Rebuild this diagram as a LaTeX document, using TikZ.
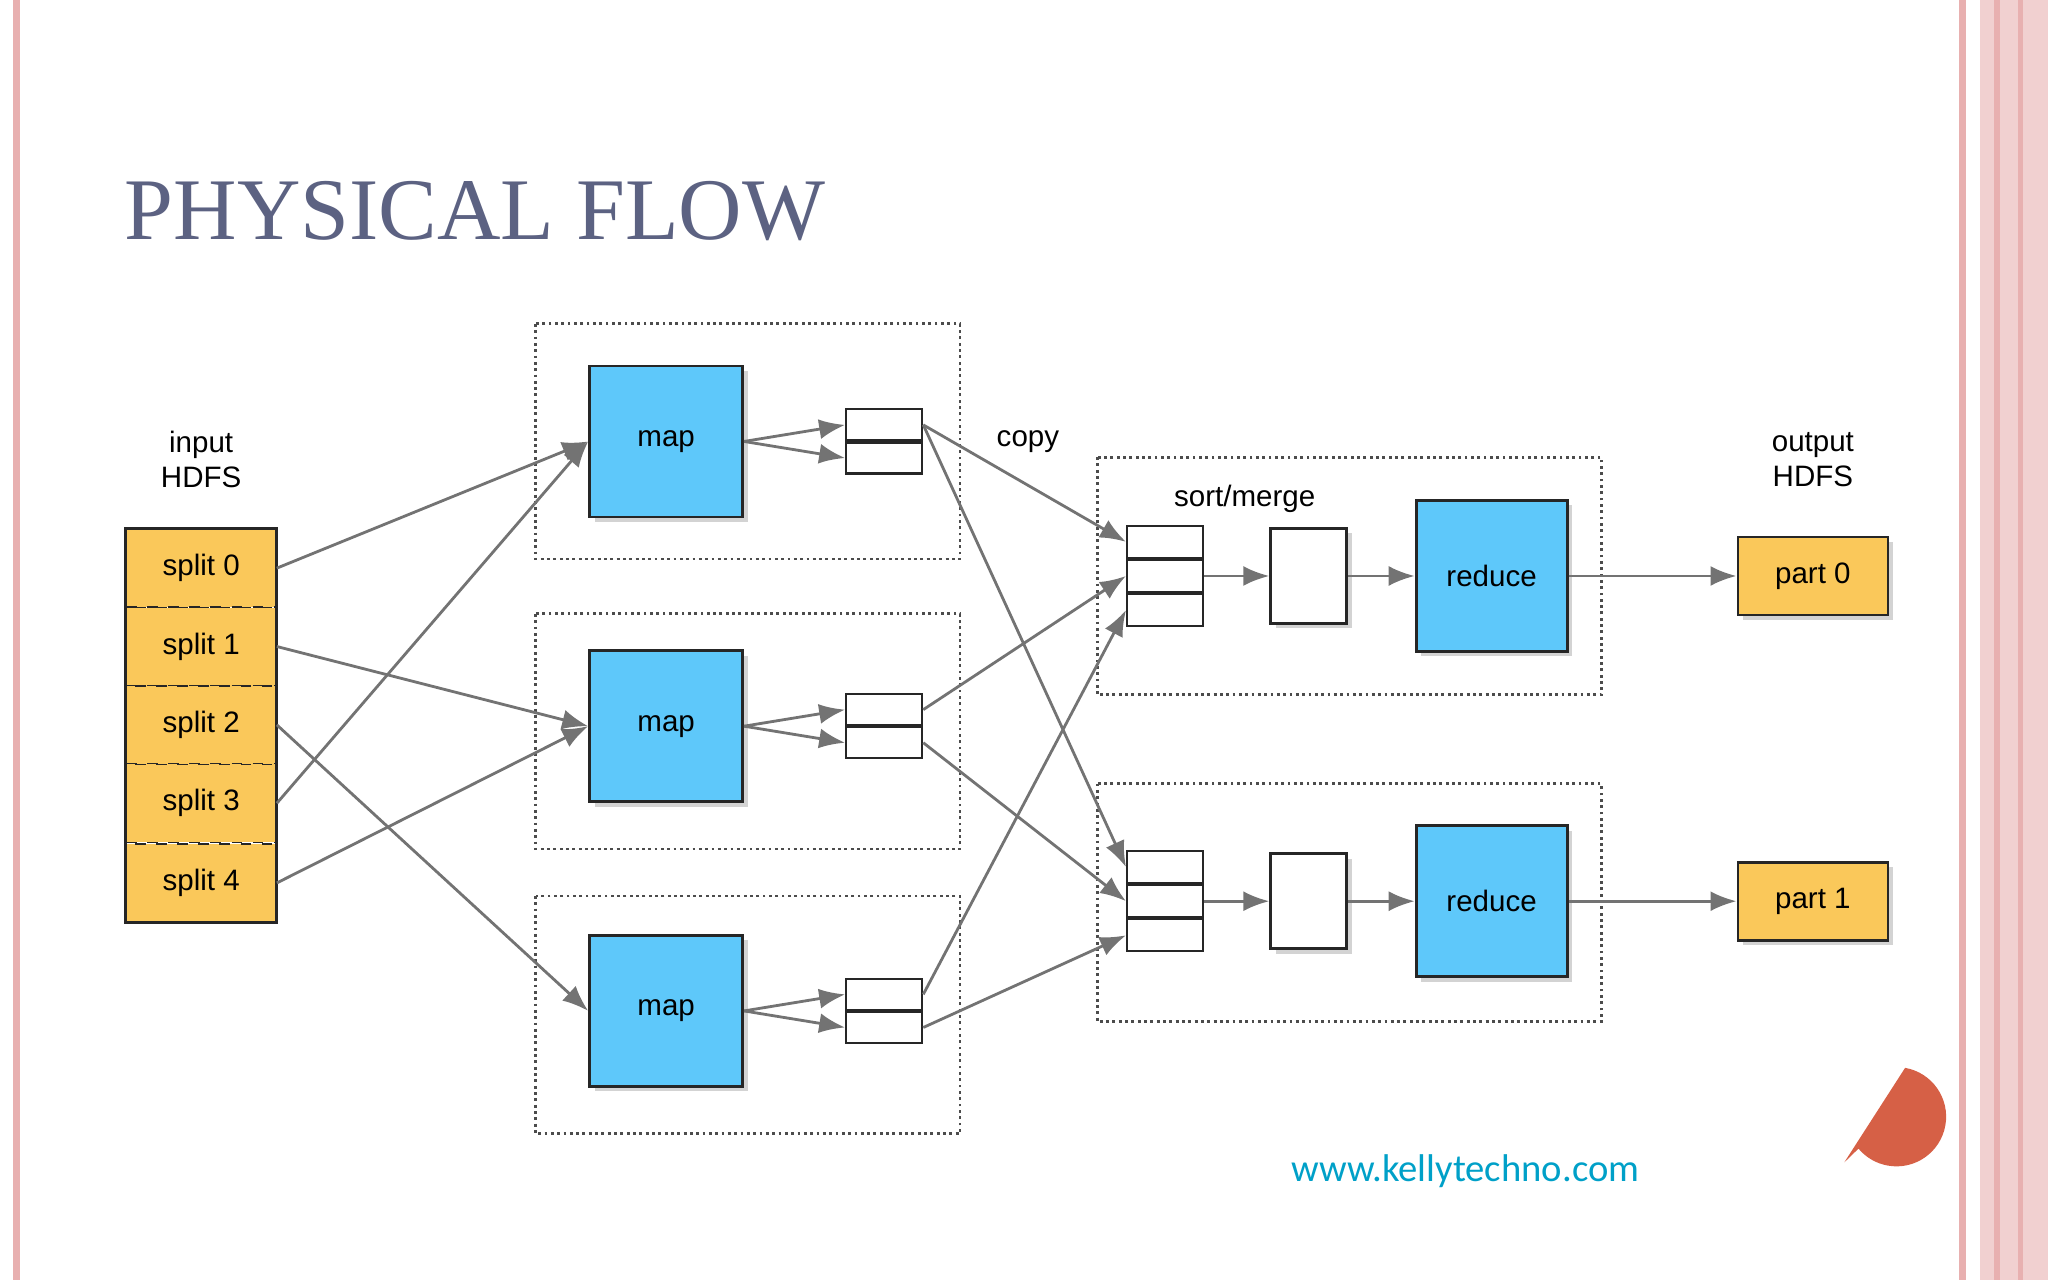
\documentclass[tikz,border=0pt]{standalone}
\usepackage{fontspec}
\setmainfont{Liberation Sans}
\newfontfamily\titlefont{Liberation Serif}
\newfontfamily\webfont{Carlito}
\usetikzlibrary{shadows,arrows.meta}
\definecolor{mapblue}{RGB}{94,200,250}
\definecolor{splitgold}{RGB}{250,200,90}
\definecolor{titlegray}{RGB}{92,98,130}
\definecolor{edgepink}{RGB}{232,176,176}
\definecolor{webteal}{RGB}{0,160,200}
\definecolor{arcred}{RGB}{214,96,70}
\tikzset{
  box/.style={draw=black!85,thick,inner sep=0pt,font=\fontsize{8.4}{10}\selectfont,drop shadow={opacity=0.35,shadow xshift=0.05cm,shadow yshift=-0.05cm}},
  mapbox/.style={box,fill=mapblue,minimum width=1.53cm,minimum height=1.51cm},
  splitbox/.style={draw=black!85,dashed,fill=splitgold,minimum width=1.5cm,minimum height=0.78cm,inner sep=0pt,font=\fontsize{8.4}{10}\selectfont},
  partbox/.style={box,fill=splitgold,minimum width=1.5cm,minimum height=0.78cm},
  cell/.style={draw=black!85,semithick,fill=white,minimum width=0.76cm,minimum height=0.31cm,inner sep=0pt},
  holder/.style={draw=black!70,densely dotted,thick},
  flow/.style={-{Latex[length=2.6mm,width=2mm]},draw=black!55,thick},
  lbl/.style={font=\fontsize{8.4}{10}\selectfont,align=center}
}
\begin{document}
\begin{tikzpicture}[x=0.01306cm,y=-0.01306cm]
  \useasboundingbox (0,0) rectangle (1568,980);
  % Page decoration
  \fill[edgepink] (10,0) rectangle (15,980);
  \fill[edgepink] (1500,0) rectangle (1505,980);
  \fill[edgepink!60] (1516,0) rectangle (1568,980);
  \fill[edgepink] (1527,0) rectangle (1531,980);
  \fill[edgepink] (1545,0) rectangle (1549,980);
  \fill[arcred] (1452,855) ++(-80:38) arc[start angle=-80,end angle=140,radius=38] -- (1412,890) -- cycle;
  \node[anchor=base west,font=\titlefont\fontsize{25}{29}\selectfont,text=titlegray,inner sep=0pt] (title) at (95,183) {PHYSICAL FLOW};
  \node[font=\webfont\fontsize{11}{13}\selectfont,text=webteal] (web) at (1122,897) {www.kellytechno.com};

  % Containers
  \draw[holder] (410,248) rectangle (735,428);
  \draw[holder] (410,470) rectangle (735,650);
  \draw[holder] (410,686) rectangle (735,868);
  \draw[holder] (840,350) rectangle (1226,532);
  \draw[holder] (840,600) rectangle (1226,782);

  % Input splits
  \node[lbl] (inlbl) at (154,352) {input\\HDFS};
  \foreach \i/\y in {0/435,1/495,2/555,3/615,4/676}
    \node[splitbox] (s\i) at (154,\y) {split \i};
  \draw[thick,black!85] (s0.north west) rectangle (s4.south east);

  % Map stage
  \foreach \i/\y in {0/338,1/556,2/774} {
    \node[mapbox] (m\i) at (510,\y) {map};
    \node[cell,anchor=south] (b\i a) at (677,\y) {};
    \node[cell,anchor=north] (b\i b) at (677,\y) {};
    \draw[flow] (m\i.east) -- (b\i a.west);
    \draw[flow] (m\i.east) -- (b\i b.west);
  }
  \node[lbl] (copylbl) at (787,338) {copy};

  % Reduce stage
  \node[lbl] (sortlbl) at (953,382) {sort/merge};
  \foreach \j/\y in {0/441,1/690} {
    \node[cell,minimum height=0.32cm] (g\j b) at (892,\y) {};
    \node[cell,minimum height=0.32cm,anchor=south] (g\j a) at (g\j b.north) {};
    \node[cell,minimum height=0.32cm,anchor=north] (g\j c) at (g\j b.south) {};
    \node[box,fill=white,minimum width=0.76cm,minimum height=0.95cm] (w\j) at (1002,\y) {};
    \node[box,fill=mapblue,minimum width=1.51cm,minimum height=1.51cm] (r\j) at (1142,\y) {reduce};
    \node[partbox] (p\j) at (1388,\y) {part \j};
    \draw[flow] (g\j b.east) -- (w\j.west);
    \draw[flow] (w\j.east) -- (r\j.west);
    \draw[flow] (r\j.east) -- (p\j.west);
  }
  \node[lbl] (outlbl) at (1388,352) {output\\HDFS};

  % Splits to maps
  \draw[flow] (s0.east) -- (m0.west);
  \draw[flow] (s1.east) -- (m1.west);
  \draw[flow] (s2.east) -- (m2.west);
  \draw[flow] (s3.east) -- (m0.west);
  \draw[flow] (s4.east) -- (m1.west);

  % Copy to reducers
  \draw[flow] (b0a.east) -- (g0a.west);
  \draw[flow] (b0a.east) -- (g1a.west);
  \draw[flow] (b1a.east) -- (g0b.west);
  \draw[flow] (b1b.east) -- (g1b.west);
  \draw[flow] (b2a.east) -- (g0c.west);
  \draw[flow] (b2b.east) -- (g1c.west);
\end{tikzpicture}
\end{document}
